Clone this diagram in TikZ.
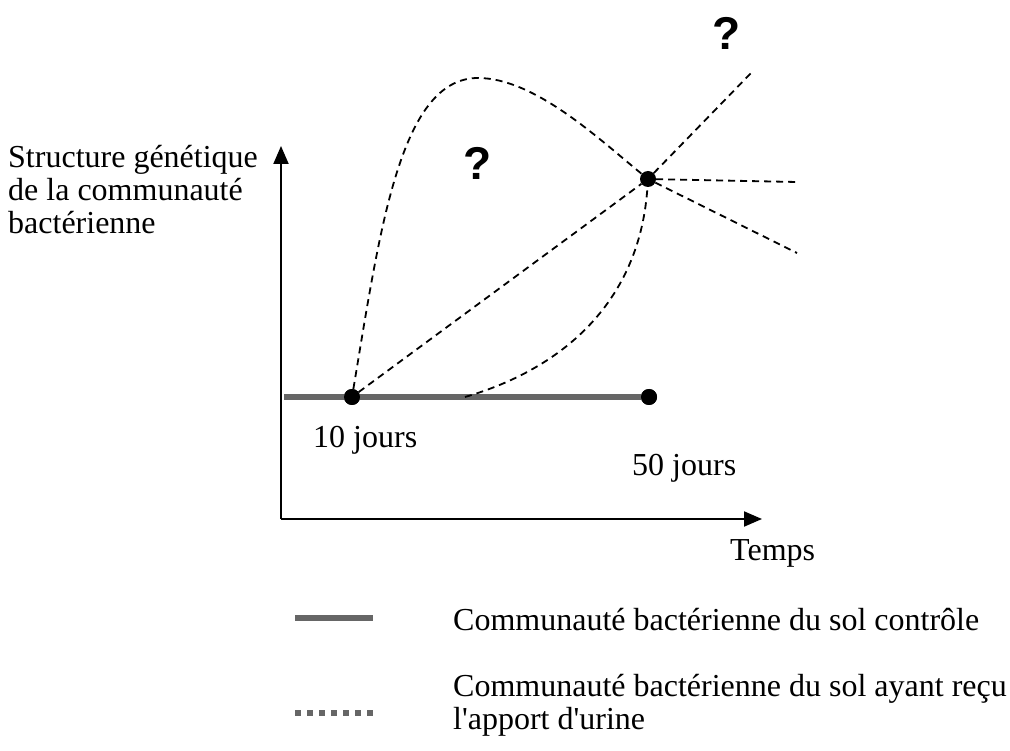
\documentclass[tikz,border=0pt]{standalone}
\usepackage{fontspec}
\usetikzlibrary{arrows.meta}
\setmainfont{Liberation Serif}
\newfontfamily\qfont{Liberation Sans}
\begin{document}
\begin{tikzpicture}[x=1pt,y=-1pt,line cap=butt,line join=round,
  axe/.style={line width=2pt,-{Triangle[length=18pt,width=15pt]}},
  temoin/.style={line width=6pt,gray!80!black},
  urine/.style={line width=1.8pt,dash pattern=on 7pt off 5pt},
  pt/.style={circle,fill,inner sep=0pt,minimum size=16pt},
  lbl/.style={font=\fontsize{32}{33}\selectfont,inner sep=0pt},
  qm/.style={font=\qfont\bfseries\fontsize{46}{46}\selectfont,inner sep=0pt}]
\useasboundingbox (0,0) rectangle (1010,751);
% axes
\coordinate (o) at (281,519);\coordinate (ytop) at (281,146);\coordinate (xend) at (762,519);
\draw[axe] (o)--(ytop);\draw[axe] (o)--(xend);
\node[lbl,anchor=north west,align=left] (ylab) at (8,145) {Structure génétique\\de la communauté\\bactérienne};
\node[lbl,anchor=base west] (xlab) at (730,560) {Temps};
% sol controle
\coordinate (c0) at (284,397);\coordinate (c1) at (465,397);
\node[pt] (d10) at (352,397) {};\node[pt] (d50) at (649,397) {};\node[pt] (d50u) at (648,179) {};
\draw[temoin] (c0)--(d50.west);\fill (d10) circle (8pt);\fill (d50) circle (8pt);
\node[lbl,anchor=base west] (j10) at (313,447) {10 jours};\node[lbl,anchor=base west] (j50) at (632,475) {50 jours};
% sol + urine
\coordinate (f1) at (752,72);\coordinate (f2) at (797,182);\coordinate (f3) at (797,253);
\draw[urine] (d10)--(d50u);\draw[urine] (d50u)--(f1);\draw[urine] (d50u)--(f2);\draw[urine] (d50u)--(f3);
\draw[urine] (d10) .. controls (380,230) and (400,78) .. (478,78) .. controls (535,78) and (600,140) .. (d50u);
\draw[urine] (c1) .. controls (565,368) and (640,300) .. (d50u);
\node[qm] (q1) at (478,163) {?};\node[qm] (q2) at (727,33) {?};
% legende
\coordinate (l1a) at (295,618);\coordinate (l1b) at (373,618);\coordinate (l2a) at (295,713);\coordinate (l2b) at (373,713);
\draw[line width=6pt,gray!80!black] (l1a)--(l1b);\draw[line width=6pt,gray!80!black,dash pattern=on 6pt off 6pt] (l2a)--(l2b);
\node[lbl,anchor=base west] (leg1) at (453,630) {Communauté bactérienne du sol contrôle};
\node[lbl,anchor=base west,align=left] (leg2) at (453,729) {Communauté bactérienne du sol ayant reçu\\l\textquotesingle apport d\textquotesingle urine};
\end{tikzpicture}
\end{document}
